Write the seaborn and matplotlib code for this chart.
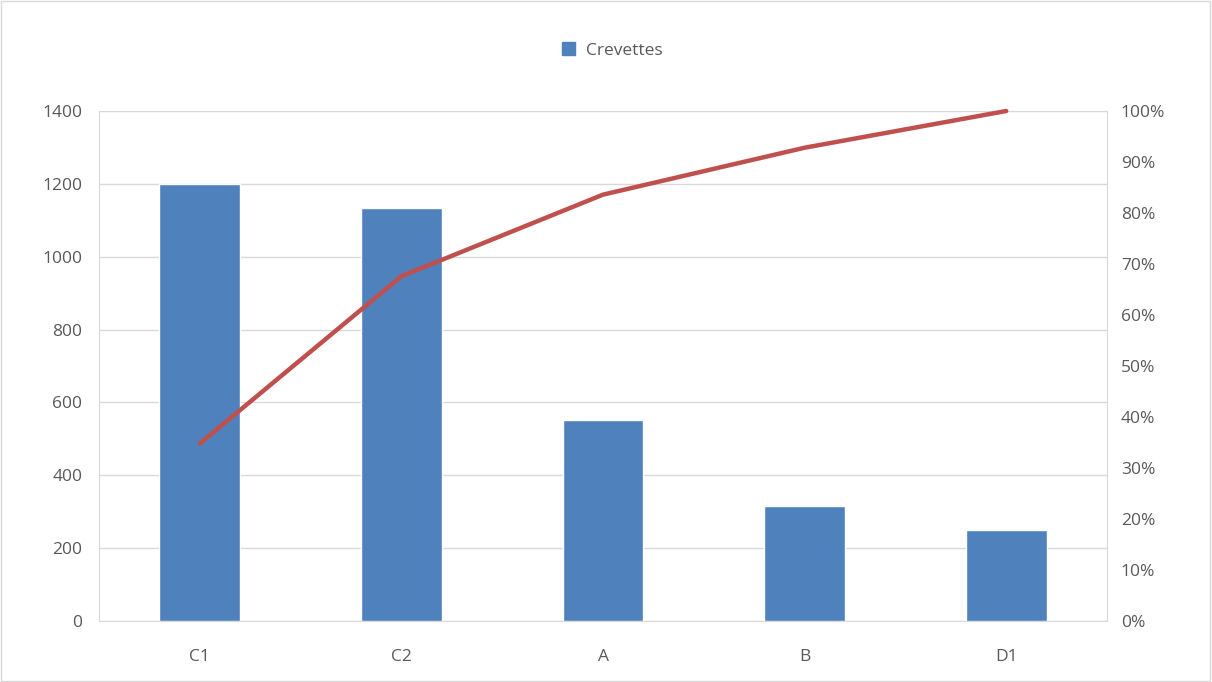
import matplotlib
matplotlib.use("Agg")
import matplotlib.pyplot as plt
import seaborn as sns
import pandas as pd
from matplotlib.patches import Rectangle, Patch
from matplotlib.ticker import PercentFormatter

categories = ["C1", "C2", "A", "B", "D1"]
values = [1200, 1134, 552, 316, 250]
cumulative_pct = [34.8, 67.6, 83.6, 92.8, 100.0]

bar_color = "#4F81BD"
line_color = "#C0504D"
text_color = "#595959"
grid_color = "#D9D9D9"

sns.set_style("white")
plt.rcParams["font.family"] = ["Open Sans", "DejaVu Sans"]

df = pd.DataFrame({"cat": categories, "val": values, "pct": cumulative_pct})

fig = plt.figure(figsize=(12.12, 6.82), dpi=100)
ax = fig.add_axes([99 / 1212, 61 / 682, 1008 / 1212, 510 / 682])

sns.barplot(data=df, x="cat", y="val", color=bar_color, width=0.4,
            saturation=1, ax=ax, zorder=3)
ax.set_xlim(-0.5, len(categories) - 0.5)
ax.set_ylim(0, 1400)
ax.set_yticks(range(0, 1401, 200))
ax.grid(axis="y", color=grid_color, linewidth=1, zorder=0)
ax.set_axisbelow(True)
ax.set_xlabel("")
ax.set_ylabel("")

ax2 = ax.twinx()
sns.lineplot(x=list(range(len(categories))), y=df["pct"], color=line_color,
             linewidth=3.2, ax=ax2, zorder=4, clip_on=False)
ax2.set_ylim(0, 100)
ax2.set_yticks(range(0, 101, 10))
ax2.yaxis.set_major_formatter(PercentFormatter(decimals=0))
ax2.set_ylabel("")

for a in (ax, ax2):
    for s in a.spines.values():
        s.set_visible(False)
    a.tick_params(length=0, labelsize=12.5, colors=text_color)
ax.spines["left"].set_visible(True)
ax.spines["left"].set_color(grid_color)
ax.spines["bottom"].set_visible(True)
ax.spines["bottom"].set_color(grid_color)
ax2.spines["right"].set_visible(True)
ax2.spines["right"].set_color(grid_color)
ax.tick_params(axis="x", pad=20)
ax.tick_params(axis="y", pad=12)
ax2.tick_params(axis="y", pad=10)

fig.legend(handles=[Patch(color=bar_color, label="Crevettes")],
           loc="center", bbox_to_anchor=(0.505, 0.926), frameon=False,
           fontsize=12.5, labelcolor=text_color, handlelength=0.8,
           handleheight=0.8, handletextpad=0.6)

fig.patches.append(Rectangle((0.001, 0.001), 0.997, 0.997, transform=fig.transFigure,
                             fill=False, edgecolor="#D9D9D9", linewidth=1))

fig.savefig("out.png", dpi=100)
